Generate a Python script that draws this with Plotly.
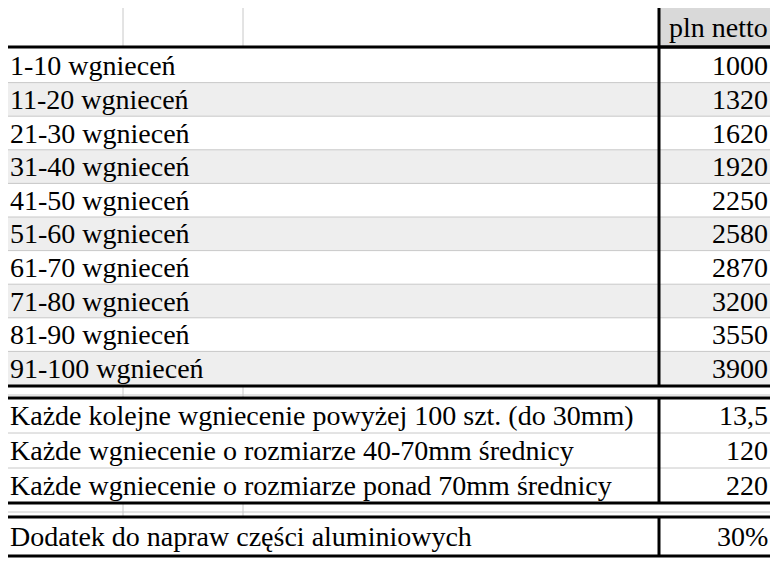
import plotly.graph_objects as go

header = 'pln netto'
labels = ['1-10 wgnieceń', '11-20 wgnieceń', '21-30 wgnieceń', '31-40 wgnieceń',
          '41-50 wgnieceń', '51-60 wgnieceń', '61-70 wgnieceń', '71-80 wgnieceń',
          '81-90 wgnieceń', '91-100 wgnieceń']
values = ['1000', '1320', '1620', '1920', '2250', '2580', '2870', '3200', '3550', '3900']
extra_labels = ['Każde kolejne wgniecenie powyżej 100 szt. (do 30mm)',
                'Każde wgniecenie o rozmiarze 40-70mm średnicy',
                'Każde wgniecenie o rozmiarze ponad 70mm średnicy']
extra_values = ['13,5', '120', '220']
alu_label = 'Dodatek do napraw części aluminiowych'
alu_value = '30%'

L, M, R = 3, 659, 774
grid = '#c8c8c8'
font = dict(family='Liberation Serif', size=28, color='black')

shapes = []
annots = []


def line(x0, y0, x1, y1, color=grid, w=1):
    shapes.append(dict(type='line', x0=x0, y0=y0, x1=x1, y1=y1, xref='x', yref='y',
                       line=dict(color=color, width=w)))


def rect(x0, y0, x1, y1, fill=None, w=3):
    shapes.append(dict(type='rect', x0=x0, y0=y0, x1=x1, y1=y1, xref='x', yref='y',
                       fillcolor=fill or 'rgba(0,0,0,0)', line=dict(color='black', width=w),
                       layer='above' if fill is None else 'below'))


def text_row(y0, y1, label, value):
    yc = (y0 + y1) / 2
    annots.append(dict(x=8, y=yc, text=label, xanchor='left', yanchor='middle', showarrow=False, font=font))
    annots.append(dict(x=770, y=yc, text=value, xanchor='right', yanchor='middle', showarrow=False, font=font))


# header row and gap grid
line(L, 4, R, 4)
for gx in (123, 243):
    line(gx, 4, gx, 47)
    line(gx, 386, gx, 398)
    line(gx, 503, gx, 516)
line(L, 395, R, 395)
line(L, 512, R, 512)
shapes.append(dict(type='rect', x0=M, y0=5, x1=R, y1=47, xref='x', yref='y',
                   fillcolor='#d9d9d9', line=dict(width=0), layer='below'))
rect(M, 5, R, 47)
annots.append(dict(x=770, y=27, text=header, xanchor='right', yanchor='middle', showarrow=False, font=font))

# block 1
top, h = 49, 33.6
for i, (lab, val) in enumerate(zip(labels, values)):
    y0, y1 = top + i * h, top + (i + 1) * h
    if i % 2 == 1:
        shapes.append(dict(type='rect', x0=L, y0=y0, x1=R, y1=y1, xref='x', yref='y',
                           fillcolor='#eeeeee', line=dict(width=0), layer='below'))
    if i > 0:
        line(L, y0, R, y0)
    text_row(y0, y1, lab, val)
rect(L, 47, R, top + len(labels) * h + 1)
line(M, 47, M, top + len(labels) * h + 1, 'black', 3)

# block 2
top2, h2 = 398, 35
for i, (lab, val) in enumerate(zip(extra_labels, extra_values)):
    y0, y1 = top2 + i * h2, top2 + (i + 1) * h2
    if i > 0:
        line(L, y0, R, y0)
    text_row(y0, y1, lab, val)
rect(L, top2, R, top2 + 3 * h2)
line(M, top2, M, top2 + 3 * h2, 'black', 3)

# block 3
rect(L, 517, R, 556)
line(M, 517, M, 556, 'black', 3)
text_row(517, 556, alu_label, alu_value)

# page has an 8px body margin, so the figure is shifted; compensate via ranges
fig = go.Figure()
fig.update_layout(width=770, height=553, margin=dict(l=0, r=0, t=0, b=0),
                  paper_bgcolor='white', plot_bgcolor='white',
                  shapes=shapes, annotations=annots, showlegend=False,
                  xaxis=dict(range=[8, 778], visible=False, fixedrange=True),
                  yaxis=dict(range=[561, 8], visible=False, fixedrange=True))
fig.write_html('out.html')
